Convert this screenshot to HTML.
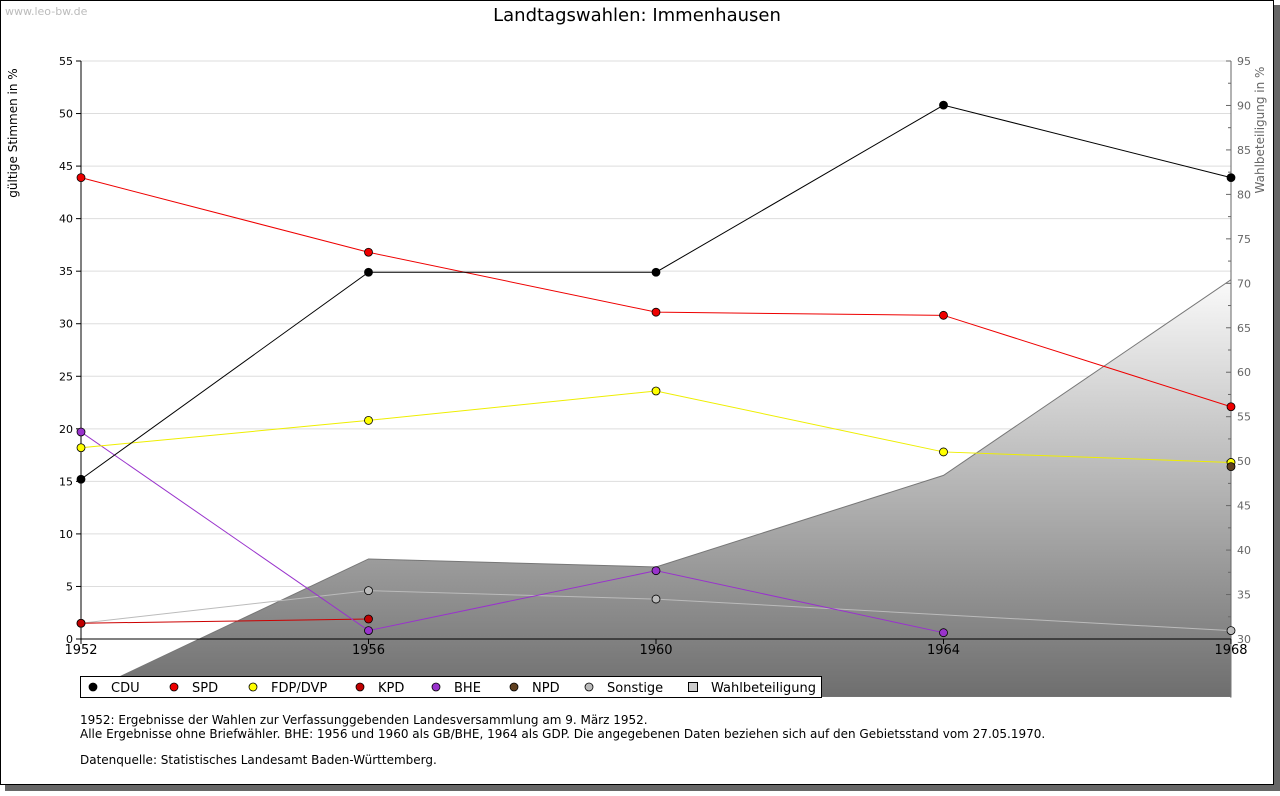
<!DOCTYPE html>
<html><head><meta charset="utf-8"><style>
body{margin:0;background:#fff;width:1280px;height:791px;overflow:hidden;font-family:"Liberation Sans","DejaVu Sans",sans-serif}
svg text{font-family:"DejaVu Sans","Liberation Sans",sans-serif}
</style></head><body>
<svg id="c" width="1280" height="791">
<defs><linearGradient id="g" x1="0" y1="0" x2="0" y2="1"><stop offset="0" stop-color="#fafafa"/><stop offset="1" stop-color="#6e6e6e"/></linearGradient></defs>
<rect x="5" y="5" width="1275" height="786" fill="#666"/>
<rect x="0.5" y="0.5" width="1273" height="784" fill="#fff" stroke="#000"/>
<text x="5" y="15" font-size="11" fill="#bbb">www.leo-bw.de</text>
<text x="637" y="21" font-size="18" text-anchor="middle">Landtagswahlen: Immenhausen</text>
<g id="grid"></g><g id="area"></g><g id="axes"></g><g id="series"></g>
<text transform="translate(17,133) rotate(-90)" font-size="12" text-anchor="middle">gültige Stimmen in %</text>
<text transform="translate(1264,130) rotate(-90)" font-size="12" fill="#666" text-anchor="middle">Wahlbeteiligung in %</text>
<g id="legend"></g>
<text x="80" y="724" font-size="12">1952: Ergebnisse der Wahlen zur Verfassunggebenden Landesversammlung am 9. März 1952.</text>
<text x="80" y="738" font-size="12">Alle Ergebnisse ohne Briefwähler. BHE: 1956 und 1960 als GB/BHE, 1964 als GDP. Die angegebenen Daten beziehen sich auf den Gebietsstand vom 27.05.1970.</text>
<text x="80" y="764" font-size="12">Datenquelle: Statistisches Landesamt Baden-Württemberg.</text>
</svg>
<script>
const years=["1952","1956","1960","1964","1968"];
const leftTicks=[0,5,10,15,20,25,30,35,40,45,50,55];
const rightTicks=[30,35,40,45,50,55,60,65,70,75,80,85,90,95];
const turnout=[23.7,39.0,38.1,48.4,70.4];
const cdu=[15.2,34.9,34.9,50.8,43.9];
const spd=[43.9,36.8,31.1,30.8,22.1];
const fdp=[18.2,20.8,23.6,17.8,16.8];
const kpd=[1.5,1.9,null,null,null];
const bhe=[19.7,0.8,6.5,0.6,null];
const npd=[null,null,null,null,16.4];
const sonst=[1.5,4.6,3.8,null,0.8];
const NS="http://www.w3.org/2000/svg";
const X=i=>81+i*(1231-81)/(years.length-1);
const Y=v=>639-v*(639-61)/55;
const Y2=v=>639-(v-30)*(639-61)/65;
function el(t,a,p){const e=document.createElementNS(NS,t);for(const k in a)e.setAttribute(k,a[k]);document.getElementById(p).appendChild(e);return e;}
leftTicks.forEach(t=>{
 if(t>0){const l=el('line',{x1:81,x2:1231,y1:Y(t),y2:Y(t),stroke:'#ddd'},'grid');
 
 }
 const tx=el('text',{x:73,y:Y(t)+4,'font-size':11,'text-anchor':'end'},'axes');tx.textContent=t;
 
 
 el('line',{x1:76,x2:81,y1:Y(t),y2:Y(t),stroke:'#000'},'axes');
});
rightTicks.forEach(t=>{
 const tx=el('text',{x:1237,y:Y2(t)+4,'font-size':11,fill:'#666'},'axes');tx.textContent=t;
 
 
 el('line',{x1:1226,x2:1231,y1:Y2(t),y2:Y2(t),stroke:'#666'},'axes');
 if(t<95)el('line',{x1:1228,x2:1231,y1:Y2(t+2.5),y2:Y2(t+2.5),stroke:'#666'},'axes');
});
let pts=turnout.map((v,i)=>X(i)+','+Y2(v)).join(' ');
const ar=el('polygon',{points:pts+' 1231,697 81,697',fill:'url(#g)',stroke:'#777'},'area');


el('rect',{x:1,y:697,width:1229,height:8,fill:'#fff'},'area');
el('line',{x1:81,x2:81,y1:61,y2:639,stroke:'#000'},'axes');
el('line',{x1:1231,x2:1231,y1:61,y2:639,stroke:'#666'},'axes');
el('line',{x1:81,x2:1231,y1:639,y2:639,stroke:'#000'},'axes');
years.forEach((y,i)=>{el('line',{x1:X(i),x2:X(i),y1:639,y2:644,stroke:'#000'},'axes');
 const tx=el('text',{x:X(i),y:654,'font-size':13,'text-anchor':'middle'},'axes');tx.textContent=y;
 
 });
const series=[["sonstige",sonst,"#bbb","#bbb"],["kpd",kpd,"#c00","#c00000"],["bhe",bhe,"#9933cc","#9933cc"],["fdp",fdp,"#ee0","#ff0"],["spd",spd,"#e00","#e00"],["cdu",cdu,"#000","#000"],["npd",npd,"#663","#604020"]];
series.forEach(([n,d,c,f])=>{
 let segs=[];d.forEach((v,i)=>{if(v!=null)segs.push([X(i),Y(v)]);});
 const pl=el('polyline',{points:segs.map(p=>p.join(',')).join(' '),fill:'none',stroke:c},'series');
 
 
 segs.forEach(p=>{const m=el('circle',{cx:p[0],cy:p[1],r:4,fill:f,stroke:'#000','stroke-width':0.8},'series');
  
  });
});
const lg=[["CDU","#000",89],["SPD","#e00",170],["FDP/DVP","#ff0",249],["KPD","#c00000",356],["BHE","#9933cc",432],["NPD","#604020",510],["Sonstige","#bbb",585]];
el('rect',{x:80.5,y:676.5,width:741,height:21,fill:'#fff',stroke:'#000'},'legend');
lg.forEach(([t,f,x])=>{el('circle',{cx:x+4,cy:687,r:4,fill:f,stroke:'#000','stroke-width':0.8},'legend');
 const tx=el('text',{x:x+22,y:692,'font-size':13},'legend');tx.textContent=t;
 
 });
el('rect',{x:688.5,y:682.5,width:9,height:9,fill:'#ccc',stroke:'#000'},'legend');
const wt=el('text',{x:711,y:692,'font-size':13},'legend');wt.textContent='Wahlbeteiligung';


</script>
</body></html>
